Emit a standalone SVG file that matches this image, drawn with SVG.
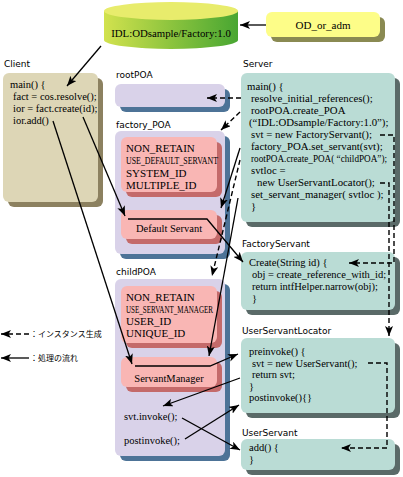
<svg xmlns="http://www.w3.org/2000/svg" width="403" height="477" viewBox="0 0 403 477">
<style>
.lbl{font-family:"DejaVu Sans",sans-serif;font-size:9px;fill:#000}
.code{font-family:"Liberation Serif",serif;font-size:10.5px;fill:#000}
.srv{font-family:"Liberation Serif",serif;font-size:10.8px;fill:#000}
.big{font-family:"Liberation Serif",serif;font-size:11px;fill:#000}
.jp{font-family:"Noto Sans CJK JP",sans-serif;font-size:8px;fill:#000}
.flow{stroke:#000;stroke-width:1.3;fill:none;marker-end:url(#ah)}
.inst{stroke:#000;stroke-width:1.4;fill:none;stroke-dasharray:5 3;marker-end:url(#ah)}
.cl{fill:#ddd6b6}.cls{fill:#8c8160}
.poa{fill:#d9d2e9}.poas{fill:#4d7397}
.pk{fill:#f9b6b4}.pks{fill:#c46a6a}
.tl{fill:#badcd5}.tls{fill:#5a6a68}
.yl{fill:#fdfd88}.yls{fill:#8a8a52}
</style>
<defs>
<marker id="ah" markerUnits="userSpaceOnUse" markerWidth="10" markerHeight="8" refX="10" refY="4" orient="auto">
<path d="M0,0 L10,4 L0,8 L2.5,4 Z" fill="#000"/>
</marker>
<linearGradient id="cyl" x1="0" y1="0" x2="1" y2="0">
<stop offset="0" stop-color="#d2e24e"/>
<stop offset="0.5" stop-color="#8cc43e"/>
<stop offset="1" stop-color="#48a632"/>
</linearGradient>
</defs>

<g id="idl">
<path d="M104,11 L104,40 A67,9 0 0 0 238,40 L238,11 Z" fill="url(#cyl)"/>
<ellipse cx="171" cy="11" rx="67" ry="9" fill="#e8ec6c"/>
<text class="code" x="171" y="37" text-anchor="middle" style="font-size:10.8px">IDL:ODsample/Factory:1.0</text>
</g>

<g id="od_or_adm">
<rect class="yls" x="271" y="17" width="114" height="25" rx="6"/>
<rect class="yl" x="266" y="12" width="114" height="25" rx="6"/>
<text class="code" x="323" y="29" text-anchor="middle" style="font-size:11px">OD_or_adm</text>
</g>

<g id="client">
<text class="lbl" x="4" y="67">Client</text>
<rect class="cls" x="8" y="78" width="95" height="129" rx="6"/>
<rect class="cl" x="3" y="73" width="95" height="129" rx="6"/>
<text class="code" x="10" y="88">main() {</text>
<text class="code" x="13" y="100">fact = cos.resolve();</text>
<text class="code" x="13" y="112">ior = fact.create(id);</text>
<text class="code" x="13" y="124">ior.add()</text>
</g>

<g id="rootPOA">
<text class="lbl" x="116" y="78">rootPOA</text>
<rect class="poas" x="120" y="89" width="110" height="23" rx="6"/>
<rect class="poa" x="115" y="84" width="110" height="23" rx="6"/>
</g>

<g id="factory_POA">
<text class="lbl" x="116" y="128">factory_POA</text>
<rect class="poas" x="120" y="136" width="110" height="123" rx="6"/>
<rect class="poa" x="115" y="131" width="110" height="123" rx="6"/>
</g>

<g id="policy1">
<rect class="pks" x="126" y="142" width="96" height="55" rx="6"/>
<rect class="pk" x="121" y="137" width="96" height="55" rx="6"/>
<text class="big" x="126" y="152">NON_RETAIN</text>
<text class="code" x="126" y="164" textLength="92" lengthAdjust="spacingAndGlyphs" style="font-size:10px">USE_DEFAULT_SERVANT</text>
<text class="big" x="126" y="177">SYSTEM_ID</text>
<text class="big" x="126" y="189">MULTIPLE_ID</text>
</g>

<g id="default_servant">
<rect class="pks" x="126" y="215" width="96" height="29" rx="6"/>
<rect class="pk" x="121" y="210" width="96" height="29" rx="6"/>
<text class="code" x="169" y="232" text-anchor="middle">Default Servant</text>
</g>

<g id="childPOA">
<text class="lbl" x="116" y="275">childPOA</text>
<rect class="poas" x="120" y="284" width="110" height="177" rx="6"/>
<rect class="poa" x="115" y="279" width="110" height="177" rx="6"/>
<text class="code" x="124" y="420">svt.invoke();</text>
<text class="code" x="124" y="444">postinvoke();</text>
</g>

<g id="policy2">
<rect class="pks" x="126" y="291" width="96" height="57" rx="6"/>
<rect class="pk" x="121" y="286" width="96" height="57" rx="6"/>
<text class="big" x="126" y="301">NON_RETAIN</text>
<text class="code" x="126" y="313" textLength="87" lengthAdjust="spacingAndGlyphs" style="font-size:10px">USE_SERVANT_MANAGER</text>
<text class="big" x="126" y="325">USER_ID</text>
<text class="big" x="126" y="337">UNIQUE_ID</text>
</g>

<g id="servant_manager">
<rect class="pks" x="126" y="362" width="96" height="30" rx="6"/>
<rect class="pk" x="121" y="357" width="96" height="30" rx="6"/>
<text class="code" x="169" y="382" text-anchor="middle">ServantManager</text>
</g>

<g id="server">
<text class="lbl" x="243" y="67">Server</text>
<rect class="tls" x="246" y="78" width="154" height="149" rx="6"/>
<rect class="tl" x="241" y="73" width="154" height="149" rx="6"/>
<text class="srv" x="247" y="90">main() {</text>
<text class="srv" x="251" y="102">resolve_initial_references();</text>
<text class="srv" x="251" y="114">rootPOA.create_POA</text>
<text class="srv" x="249" y="126">(“IDL:ODsample/Factory:1.0”);</text>
<text class="srv" x="251" y="138">svt = new FactoryServant();</text>
<text class="srv" x="251" y="150">factory_POA.set_servant(svt);</text>
<text class="srv" x="251" y="162" textLength="136" lengthAdjust="spacingAndGlyphs" style="font-size:9.5px">rootPOA.create_POA( “childPOA”);</text>
<text class="srv" x="251" y="174">svtloc =</text>
<text class="srv" x="257" y="186">new UserServantLocator();</text>
<text class="srv" x="251" y="198">set_servant_manager( svtloc );</text>
<text class="srv" x="251" y="210">}</text>
</g>

<g id="factory_servant">
<text class="lbl" x="242" y="247">FactoryServant</text>
<rect class="tls" x="246" y="257" width="154" height="58" rx="6"/>
<rect class="tl" x="241" y="252" width="154" height="58" rx="6"/>
<text class="code" x="249" y="266">Create(String id) {</text>
<text class="code" x="252" y="278">obj = create_reference_with_id;</text>
<text class="code" x="252" y="290">return intfHelper.narrow(obj);</text>
<text class="code" x="252" y="302">}</text>
</g>

<g id="user_servant_locator">
<text class="lbl" x="242" y="334">UserServantLocator</text>
<rect class="tls" x="246" y="343" width="154" height="75" rx="6"/>
<rect class="tl" x="241" y="338" width="154" height="75" rx="6"/>
<text class="code" x="249" y="355">preinvoke() {</text>
<text class="code" x="252" y="367">svt = new UserServant();</text>
<text class="code" x="252" y="378">return svt;</text>
<text class="code" x="249" y="390">}</text>
<text class="code" x="249" y="401">postinvoke(){}</text>
</g>

<g id="user_servant">
<text class="lbl" x="242" y="436">UserServant</text>
<rect class="tls" x="246" y="444" width="154" height="31" rx="6"/>
<rect class="tl" x="241" y="439" width="154" height="31" rx="6"/>
<text class="code" x="249" y="451">add() {</text>
<text class="code" x="249" y="463">}</text>
</g>

<g id="legend">
<path class="inst" d="M29,334 L1,334"/>
<text class="jp" x="30" y="337">：インスタンス生成</text>
<path class="flow" d="M29,358 L1,358"/>
<text class="jp" x="30" y="361">：処理の流れ</text>
</g>

<g id="connectors">
<path class="flow" d="M266,25 L240,25"/>
<path class="flow" d="M101,46 L67,86"/>
<path class="inst" d="M241,98 L207,98"/>
<path class="inst" d="M240,112 L221,130"/>
<path class="flow" d="M240,148 L221,208"/>
<path class="inst" d="M240,160 L212,276"/>
<path class="flow" d="M238,198 L209,356"/>
<path class="inst" d="M380,135 L394,135 L394,263 L349,263"/>
<path class="inst" d="M380,183 L389,183 L389,336"/>
<path class="inst" d="M368,363 L387,363 L387,448 L341,448"/>
<path class="flow" d="M83,117 L125,216"/>
<path class="flow" d="M128,219 L207,219 L243,262"/>
<path class="flow" d="M53,121 L132,364"/>
<path class="flow" d="M135,366 L210,366 L238,354"/>
<path class="flow" d="M240,378 L163,406"/>
<path class="flow" d="M182,418 L240,450"/>
<path class="flow" d="M185,439 L239,405"/>
</g>
</svg>
